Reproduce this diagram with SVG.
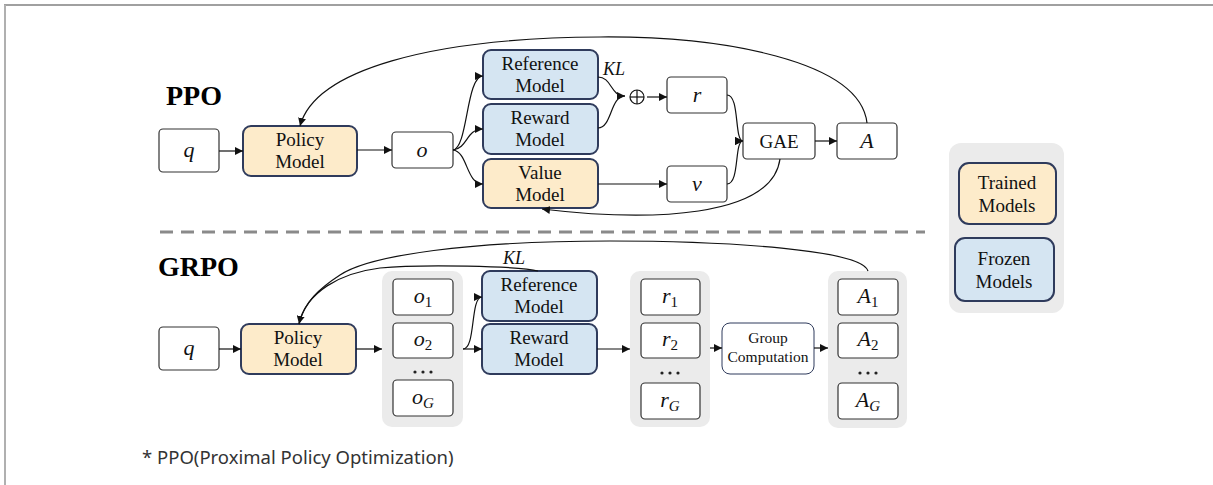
<svg xmlns="http://www.w3.org/2000/svg" width="1213" height="485" viewBox="0 0 1213 485">
<defs>
<style>
.box{fill:#fff;stroke:#333;stroke-width:1.2}
.pm{fill:#fdebca;stroke:#2f3b5c;stroke-width:2}
.fm{fill:#d5e5f2;stroke:#2f3b5c;stroke-width:2}
.panel{fill:#ebebeb;stroke:none}
.t{font-family:"Liberation Serif","Times New Roman",serif;font-size:19px;fill:#111;text-anchor:middle}
.ts{font-family:"Liberation Serif","Times New Roman",serif;font-size:15.5px;fill:#111;text-anchor:middle}
.m{font-family:"Liberation Serif","Times New Roman",serif;font-style:italic;font-size:22px;fill:#111;text-anchor:middle}
.k{font-family:"Liberation Serif","Times New Roman",serif;font-style:italic;font-size:18px;fill:#111;text-anchor:middle}
.sub{font-size:15px}
.subn{font-size:15px;font-style:normal}
.h{font-family:"Liberation Serif","Times New Roman",serif;font-weight:bold;font-size:28px;fill:#000}
.c{fill:none;stroke:#111;stroke-width:1.2}
.dot{fill:#222}
</style>
<marker id="ah" viewBox="0 0 10 10" refX="10" refY="5" markerWidth="8" markerHeight="8" markerUnits="userSpaceOnUse" orient="auto"><path d="M0,0 L10,5 L0,10 z" fill="#111"/></marker>
</defs>
<rect x="0" y="0" width="1213" height="485" fill="#fff"/>
<line x1="4" y1="5" x2="1213" y2="5" stroke="#808080" stroke-width="1.5"/>
<line x1="5" y1="5" x2="5" y2="485" stroke="#b0b0b0" stroke-width="2"/>

<text class="h" x="166" y="105">PPO</text>
<text class="h" x="158" y="276">GRPO</text>

<line x1="160" y1="232" x2="925" y2="232" stroke="#8a8a8a" stroke-width="3" stroke-dasharray="13,8"/>

<!-- PPO nodes -->
<g id="ppo-q"><rect class="box" x="159" y="129" width="60" height="43" rx="4"/><text class="m" x="189" y="157">q</text></g>
<g id="ppo-policy"><rect class="pm" x="243" y="126" width="114" height="50" rx="8"/><text class="t" x="300" y="146">Policy</text><text class="t" x="300" y="168">Model</text></g>
<g id="ppo-o"><rect class="box" x="392" y="132" width="61" height="36" rx="4"/><text class="m" x="422" y="157">o</text></g>
<g id="ppo-ref"><rect class="fm" x="483" y="50" width="115" height="49" rx="8"/><text class="t" x="540" y="70">Reference</text><text class="t" x="540" y="92">Model</text></g>
<g id="ppo-reward"><rect class="fm" x="483" y="104" width="115" height="50" rx="8"/><text class="t" x="540" y="124">Reward</text><text class="t" x="540" y="146">Model</text></g>
<g id="ppo-value"><rect class="pm" x="483" y="159" width="115" height="49" rx="8"/><text class="t" x="540" y="179">Value</text><text class="t" x="540" y="201">Model</text></g>
<g id="ppo-kl"><text class="k" x="614" y="75">KL</text></g>
<g id="ppo-oplus"><circle cx="637" cy="97" r="7" fill="none" stroke="#111" stroke-width="1.2"/><line x1="630" y1="97" x2="644" y2="97" stroke="#111" stroke-width="1.2"/><line x1="637" y1="90" x2="637" y2="104" stroke="#111" stroke-width="1.2"/></g>
<g id="ppo-r"><rect class="box" x="667" y="77" width="60" height="36" rx="4"/><text class="m" x="697" y="102">r</text></g>
<g id="ppo-v"><rect class="box" x="667" y="166" width="60" height="36" rx="4"/><text class="m" x="697" y="191">v</text></g>
<g id="ppo-gae"><rect class="box" x="743" y="123" width="72" height="36" rx="4"/><text class="t" x="779" y="148">GAE</text></g>
<g id="ppo-a"><rect class="box" x="837" y="123" width="60" height="36" rx="4"/><text class="m" x="867" y="148">A</text></g>

<!-- Legend -->
<g id="legend">
<rect class="panel" x="949" y="143" width="115" height="170" rx="12"/>
<rect class="pm" x="959" y="163" width="97" height="61" rx="10"/><text class="t" x="1007" y="189">Trained</text><text class="t" x="1007" y="212">Models</text>
<rect class="fm" x="955" y="238" width="99" height="63" rx="10"/><text class="t" x="1004" y="265">Frozen</text><text class="t" x="1004" y="288">Models</text>
</g>

<!-- GRPO nodes -->
<g id="grpo-q"><rect class="box" x="159" y="327" width="60" height="43" rx="4"/><text class="m" x="189" y="355">q</text></g>
<g id="grpo-policy"><rect class="pm" x="241" y="324" width="115" height="50" rx="8"/><text class="t" x="298" y="344">Policy</text><text class="t" x="298" y="366">Model</text></g>
<g id="grpo-o-group">
<rect class="panel" x="382" y="271" width="81" height="156" rx="10"/>
<rect class="box" x="393" y="279" width="60" height="36" rx="4"/><text class="m" x="423" y="303">o<tspan class="subn" dy="4">1</tspan></text>
<rect class="box" x="393" y="323" width="60" height="35" rx="4"/><text class="m" x="423" y="346">o<tspan class="subn" dy="4">2</tspan></text>
<circle class="dot" cx="415" cy="372" r="1.6"/><circle class="dot" cx="423" cy="372" r="1.6"/><circle class="dot" cx="431" cy="372" r="1.6"/>
<rect class="box" x="393" y="380" width="60" height="36" rx="4"/><text class="m" x="423" y="404">o<tspan class="sub" dy="4">G</tspan></text>
</g>
<g id="grpo-ref"><rect class="fm" x="482" y="271" width="115" height="50" rx="8"/><text class="t" x="539" y="291">Reference</text><text class="t" x="539" y="313">Model</text></g>
<g id="grpo-reward"><rect class="fm" x="482" y="324" width="115" height="50" rx="8"/><text class="t" x="539" y="344">Reward</text><text class="t" x="539" y="366">Model</text></g>
<g id="grpo-kl"><text class="k" x="514" y="264">KL</text></g>
<g id="grpo-r-group">
<rect class="panel" x="630" y="271" width="80" height="156" rx="10"/>
<rect class="box" x="641" y="279" width="59" height="36" rx="4"/><text class="m" x="670" y="303">r<tspan class="subn" dy="4">1</tspan></text>
<rect class="box" x="641" y="323" width="59" height="35" rx="4"/><text class="m" x="670" y="346">r<tspan class="subn" dy="4">2</tspan></text>
<circle class="dot" cx="662" cy="373" r="1.6"/><circle class="dot" cx="670" cy="373" r="1.6"/><circle class="dot" cx="678" cy="373" r="1.6"/>
<rect class="box" x="641" y="383" width="59" height="36" rx="4"/><text class="m" x="670" y="407">r<tspan class="sub" dy="4">G</tspan></text>
</g>
<g id="grpo-group-comp"><rect x="722" y="323" width="92" height="51" rx="8" fill="#fff" stroke="#2f3b5c" stroke-width="1"/><text class="ts" x="768" y="343">Group</text><text class="ts" x="768" y="362">Computation</text></g>
<g id="grpo-a-group">
<rect class="panel" x="828" y="271" width="79" height="157" rx="10"/>
<rect class="box" x="838" y="279" width="60" height="36" rx="4"/><text class="m" x="868" y="303">A<tspan class="subn" dy="4">1</tspan></text>
<rect class="box" x="838" y="323" width="60" height="35" rx="4"/><text class="m" x="868" y="346">A<tspan class="subn" dy="4">2</tspan></text>
<circle class="dot" cx="860" cy="373" r="1.6"/><circle class="dot" cx="868" cy="373" r="1.6"/><circle class="dot" cx="876" cy="373" r="1.6"/>
<rect class="box" x="838" y="383" width="60" height="36" rx="4"/><text class="m" x="868" y="407">A<tspan class="sub" dy="4">G</tspan></text>
</g>

<!-- Connectors -->
<g id="connectors">
<path class="c" d="M219,151 L243,151" marker-end="url(#ah)"/>
<path class="c" d="M357,150 L392,150" marker-end="url(#ah)"/>
<path class="c" d="M453,150 C 468,148 466,76 483,76" marker-end="url(#ah)"/>
<path class="c" d="M453,150 C 468,148 466,129 483,129" marker-end="url(#ah)"/>
<path class="c" d="M453,150 C 468,152 466,184 483,184" marker-end="url(#ah)"/>
<path class="c" d="M598,77 C 612,77 610,96 625,96"/>
<path class="c" d="M598,128 C 612,128 610,96 625,96" marker-end="url(#ah)"/>
<path class="c" d="M647,97 L667,97" marker-end="url(#ah)"/>
<path class="c" d="M598,184 L667,184" marker-end="url(#ah)"/>
<path class="c" d="M727,95 C 740,95 734,141 743,141" marker-end="url(#ah)"/>
<path class="c" d="M727,184 C 740,184 734,141 743,141" marker-end="url(#ah)"/>
<path class="c" d="M815,141 L837,141" marker-end="url(#ah)"/>
<path class="c" d="M867,123 C 860,60 720,36 600,37 C 430,38 315,70 300,126" marker-end="url(#ah)"/>
<path class="c" d="M780,159 C 772,218 650,222 542,209" marker-end="url(#ah)"/>

<path class="c" d="M219,349 L241,349" marker-end="url(#ah)"/>
<path class="c" d="M356,349 L382,349" marker-end="url(#ah)"/>
<path class="c" d="M463,349 C 476,349 470,297 482,297" marker-end="url(#ah)"/>
<path class="c" d="M463,349 L482,349" marker-end="url(#ah)"/>
<path class="c" d="M538,271 C 520,266 420,264 380,268 C 340,273 306,292 299,324" marker-end="url(#ah)"/>
<path class="c" d="M868,271 C 862,250 730,241 610,241 C 470,241 370,255 340,275 C 320,288 304,302 299,324"/>
<path class="c" d="M597,349 L630,349" marker-end="url(#ah)"/>
<path class="c" d="M710,348 L722,348" marker-end="url(#ah)"/>
<path class="c" d="M814,348 L828,348" marker-end="url(#ah)"/>
</g>

<text x="142" y="464" style="font-family:'Noto Sans','Liberation Sans',sans-serif;font-size:18.5px;fill:#333">* PPO(Proximal Policy Optimization)</text>
</svg>
